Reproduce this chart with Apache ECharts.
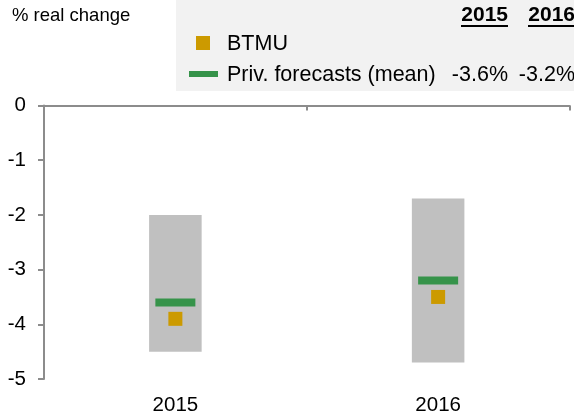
<!DOCTYPE html>
<html>
<head>
<meta charset="utf-8">
<script src="https://cdn.jsdelivr.net/npm/echarts@6/dist/echarts.min.js"></script>
<style>
  html, body { margin: 0; padding: 0; background: #fff; }
  #chart { width: 574px; height: 416px; }
</style>
</head>
<body>
<div id="chart"></div>
<script>
// data
const years = ['2015', '2016'];
const rangeHigh = [-2.0, -1.7];
const rangeLow = [-4.5, -4.7];
const privMean = [-3.6, -3.2];
const btmu = [-3.9, -3.5];
const yTicks = { min: -5, max: 0, interval: 1 };

const FONT = 'Liberation Sans, Arial, sans-serif';
const GREEN = '#36934a';
const ORANGE = '#cc9a00';
const GREY = '#c0c0c0';
const AXIS = '#8c8c8c';

const chart = echarts.init(document.getElementById('chart'));

function renderRange(params, api) {
    const x = api.value(0);
    const top = api.coord([x, api.value(1)]);
    const bottom = api.coord([x, api.value(2)]);
    const w = api.size([1, 0])[0] * 0.2;
    return {
        type: 'rect',
        shape: { x: top[0] - w / 2, y: top[1], width: w, height: bottom[1] - top[1] },
        style: { fill: GREY }
    };
}

// legend / table drawn as graphics, texts from the arrays
const colRight = [508, 575];
const graphic = [
    { type: 'rect', shape: { x: 176, y: 0, width: 398, height: 91 }, style: { fill: '#f2f2f2' }, z: -1 },
    { type: 'text', x: 12, y: 16, style: { text: '% real change', font: '18.5px ' + FONT, fill: '#000', textVerticalAlign: 'middle' } },
    { type: 'rect', shape: { x: 196, y: 36, width: 14, height: 14 }, style: { fill: ORANGE } },
    { type: 'text', x: 227, y: 44, style: { text: 'BTMU', font: '21.5px ' + FONT, fill: '#000', textVerticalAlign: 'middle' } },
    { type: 'rect', shape: { x: 189, y: 71, width: 29, height: 6 }, style: { fill: GREEN } },
    { type: 'text', x: 227, y: 75, style: { text: 'Priv. forecasts (mean)', font: '21.5px ' + FONT, fill: '#000', textVerticalAlign: 'middle' } }
];
years.forEach((yr, i) => {
    graphic.push({ type: 'text', x: colRight[i], y: 15, style: { text: yr, font: 'bold 21px ' + FONT, fill: '#000', textAlign: 'right', textVerticalAlign: 'middle' } });
    graphic.push({ type: 'rect', shape: { x: colRight[i] - 47, y: 25, width: 47, height: 2 }, style: { fill: '#000' } });
    graphic.push({ type: 'text', x: colRight[i], y: 75, style: { text: privMean[i].toFixed(1) + '%', font: '21.5px ' + FONT, fill: '#000', textAlign: 'right', textVerticalAlign: 'middle' } });
});

const option = {
    backgroundColor: '#fff',
    animation: false,
    grid: { left: 44, right: 4.5, top: 105.5, bottom: 35.5 },
    xAxis: [{
        type: 'category',
        data: years,
        position: 'top',
        axisLine: { onZero: false, lineStyle: { color: AXIS, width: 2 } },
        axisTick: { show: true, inside: true, length: 5, lineStyle: { color: AXIS, width: 2 } },
        axisLabel: { show: false }
    }, {
        type: 'category',
        data: years,
        position: 'bottom',
        axisLine: { show: false },
        axisTick: { show: false },
        axisLabel: { color: '#000', fontSize: 20.5, fontFamily: FONT, margin: 16 }
    }],
    yAxis: {
        type: 'value',
        min: yTicks.min,
        max: yTicks.max,
        interval: yTicks.interval,
        splitLine: { show: false },
        axisLine: { show: true, lineStyle: { color: AXIS, width: 2 } },
        axisTick: { show: true, length: 6, lineStyle: { color: AXIS, width: 2 } },
        axisLabel: { color: '#000', fontSize: 20.5, fontFamily: FONT, margin: 18 }
    },
    series: [{
        name: 'Range',
        type: 'custom',
        renderItem: renderRange,
        data: years.map((y, i) => [i, rangeHigh[i], rangeLow[i]]),
        z: 1
    }, {
        name: 'Priv. forecasts (mean)',
        type: 'scatter',
        symbol: 'rect',
        symbolSize: [40, 8],
        itemStyle: { color: GREEN, opacity: 1 },
        data: privMean,
        z: 3
    }, {
        name: 'BTMU',
        type: 'scatter',
        symbol: 'rect',
        symbolSize: [14, 14],
        itemStyle: { color: ORANGE, opacity: 1 },
        data: btmu,
        z: 3
    }],
    graphic: graphic
};

chart.setOption(option);
</script>
</body>
</html>
